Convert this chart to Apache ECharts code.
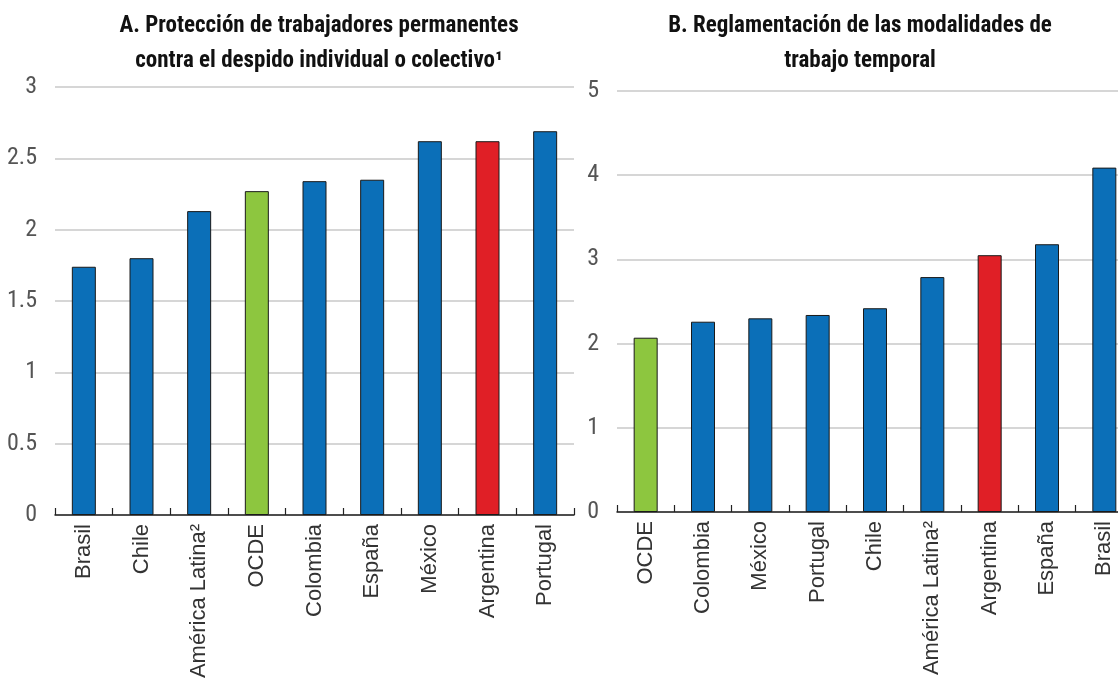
<!DOCTYPE html>
<html>
<head>
<meta charset="utf-8">
<script src="https://cdn.jsdelivr.net/npm/echarts@6/dist/echarts.min.js"></script>
<style>
  html, body { margin: 0; padding: 0; background: #fff; }
  #chart { width: 1118px; height: 689px; }
</style>
</head>
<body>
<div id="chart"></div>
<script>
// Panel A: protección contra el despido
const catsA = ['Brasil', 'Chile', 'América Latina²', 'OCDE', 'Colombia', 'España', 'México', 'Argentina', 'Portugal'];
const valsA = [1.74, 1.80, 2.13, 2.27, 2.34, 2.35, 2.62, 2.62, 2.69];

// Panel B: modalidades de trabajo temporal
const catsB = ['OCDE', 'Colombia', 'México', 'Portugal', 'Chile', 'América Latina²', 'Argentina', 'España', 'Brasil'];
const valsB = [2.07, 2.26, 2.30, 2.34, 2.42, 2.79, 3.05, 3.18, 4.09];

const titleA = 'A. Protección de trabajadores permanentes\ncontra el despido individual o colectivo¹';
const titleB = 'B. Reglamentación de las modalidades de\ntrabajo temporal';

const BLUE = '#0B6FB8', GREEN = '#8DC63F', RED = '#E01F26';
const narrow = '"Liberation Sans Narrow", "Arial Narrow", "Roboto Condensed", "Liberation Sans", sans-serif';

function colorFor(name) {
  if (name === 'OCDE') return GREEN;
  if (name === 'Argentina') return RED;
  return BLUE;
}

function barData(cats, vals) {
  return vals.map((v, i) => ({ value: v, itemStyle: { color: colorFor(cats[i]) } }));
}

function xAxisFor(idx, cats) {
  return {
    type: 'category',
    gridIndex: idx,
    data: cats,
    axisLine: { lineStyle: { color: '#222', width: 1.5 } },
    axisTick: { show: true, inside: true, length: 7, lineStyle: { color: '#222', width: 1.2 } },
    axisLabel: {
      rotate: 90,
      margin: 9,
      interval: 0,
      color: '#333',
      fontSize: 22,
      fontFamily: '"Liberation Sans", Arial, sans-serif'
    }
  };
}

function yAxisFor(idx, max, interval) {
  return {
    type: 'value',
    gridIndex: idx,
    min: 0,
    max: max,
    interval: interval,
    axisLine: { show: false },
    axisTick: { show: false },
    axisLabel: { color: '#555', fontSize: 24, margin: 18, fontFamily: narrow },
    splitLine: { lineStyle: { color: '#D6D6D6', width: 2 } }
  };
}

const chart = echarts.init(document.getElementById('chart'));

chart.setOption({
  animation: false,
  title: [
    {
      text: titleA,
      left: 314, top: 4, textAlign: 'center',
      textStyle: { fontSize: 23, fontWeight: 'bold', color: '#111', lineHeight: 35, fontFamily: narrow }
    },
    {
      text: titleB,
      left: 855, top: 4, textAlign: 'center',
      textStyle: { fontSize: 23, fontWeight: 'bold', color: '#111', lineHeight: 35, fontFamily: narrow }
    }
  ],
  grid: [
    { left: 55, top: 87, width: 519, height: 428, outerBoundsMode: 'none' },
    { left: 617, top: 91, width: 516, height: 421, outerBoundsMode: 'none' }
  ],
  xAxis: [xAxisFor(0, catsA), xAxisFor(1, catsB)],
  yAxis: [yAxisFor(0, 3, 0.5), yAxisFor(1, 5, 1)],
  series: [
    {
      type: 'bar', xAxisIndex: 0, yAxisIndex: 0,
      barWidth: 24,
      data: barData(catsA, valsA),
      itemStyle: { borderColor: '#1a1a1a', borderWidth: 1 }
    },
    {
      type: 'bar', xAxisIndex: 1, yAxisIndex: 1,
      barWidth: 24,
      data: barData(catsB, valsB),
      itemStyle: { borderColor: '#1a1a1a', borderWidth: 1 }
    }
  ]
});
</script>
</body>
</html>
